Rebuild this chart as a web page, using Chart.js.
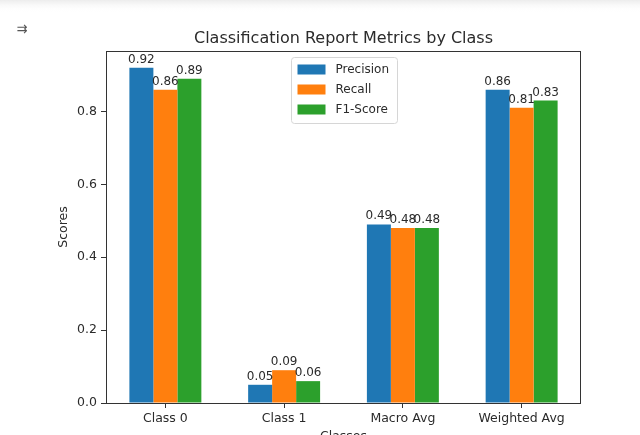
<!DOCTYPE html>
<html>
<head>
<meta charset="utf-8">
<script src="https://cdn.jsdelivr.net/npm/chart.js@4.4.0/dist/chart.umd.min.js"></script>
<style>
  html, body { margin: 0; padding: 0; background: #fff; }
  #wrap { width: 640px; height: 435px; position: relative; }
</style>
</head>
<body>
<div id="wrap"><canvas id="reportChart" width="640" height="435"></canvas></div>
<script>
// data
var classes = ["Class 0", "Class 1", "Macro Avg", "Weighted Avg"];
var precision = [0.92, 0.05, 0.49, 0.86];
var recall = [0.86, 0.09, 0.48, 0.81];
var f1Score = [0.89, 0.06, 0.48, 0.83];
var yTicks = [0.0, 0.2, 0.4, 0.6, 0.8];

var font = "'DejaVu Sans', sans-serif";
var textColor = "#2b2b2b";

// title, axis labels, frame, legend and bar value labels
var decorPlugin = {
    id: "decor",
    afterDatasetsDraw: function(chart) {
        var ctx = chart.ctx;
        var area = chart.chartArea;
        ctx.save();

        // light strip at the top of the page
        var grad = ctx.createLinearGradient(0, 0, 0, 12);
        grad.addColorStop(0, "#ececec");
        grad.addColorStop(1, "rgba(255,255,255,0)");
        ctx.fillStyle = grad;
        ctx.fillRect(0, 0, 640, 12);

        // bar value labels
        ctx.fillStyle = textColor;
        ctx.font = "12px " + font;
        ctx.textAlign = "center";
        ctx.textBaseline = "alphabetic";
        chart.data.datasets.forEach(function(ds, i) {
            chart.getDatasetMeta(i).data.forEach(function(bar, j) {
                ctx.fillText(ds.data[j].toFixed(2), bar.x, bar.y - 5);
            });
        });

        // frame
        ctx.strokeStyle = "#333";
        ctx.lineWidth = 1;
        ctx.strokeRect(area.left + 0.5, area.top + 0.5, area.right - area.left - 1, area.bottom - area.top);

        // title
        ctx.font = "16px " + font;
        ctx.fillText("Classification Report Metrics by Class", (area.left + area.right) / 2, 43);

        // axis labels
        ctx.font = "12.5px " + font;
        ctx.fillText("Classes", (area.left + area.right) / 2, 440);
        ctx.save();
        ctx.translate(67, (area.top + area.bottom) / 2);
        ctx.rotate(-Math.PI / 2);
        ctx.fillText("Scores", 0, 0);
        ctx.restore();

        // small toolbar glyph at the top left
        ctx.font = "13px " + font;
        ctx.fillStyle = "#555";
        ctx.fillText("\u21c9", 22, 33);

        // legend, upper center
        var boxW = 106, boxH = 66;
        var bx = Math.round((area.left + area.right) / 2 - boxW / 2) + 0.5;
        var by = area.top + 6.5;
        ctx.fillStyle = "rgba(255,255,255,0.8)";
        ctx.strokeStyle = "#d6d6d6";
        ctx.beginPath();
        ctx.roundRect(bx, by, boxW, boxH, 3);
        ctx.fill();
        ctx.stroke();
        ctx.textAlign = "left";
        ctx.textBaseline = "middle";
        ctx.font = "12px " + font;
        chart.data.datasets.forEach(function(ds, i) {
            var ry = by + 12 + i * 20;
            ctx.fillStyle = ds.backgroundColor;
            ctx.fillRect(bx + 6, ry - 5, 28, 10);
            ctx.fillStyle = textColor;
            ctx.fillText(ds.label, bx + 44, ry);
        });

        ctx.restore();
    }
};

new Chart(document.getElementById("reportChart"), {
    type: "bar",
    data: {
        labels: classes,
        datasets: [
            { label: "Precision", data: precision, backgroundColor: "#1f77b4" },
            { label: "Recall", data: recall, backgroundColor: "#ff7f0e" },
            { label: "F1-Score", data: f1Score, backgroundColor: "#2ca02c" }
        ]
    },
    options: {
        responsive: false,
        animation: false,
        events: [],
        categoryPercentage: 0.606,
        barPercentage: 1.0,
        layout: { padding: { left: 0, right: 59, top: 51, bottom: 0 } },
        plugins: {
            legend: { display: false },
            title: { display: false },
            tooltip: { enabled: false }
        },
        scales: {
            x: {
                grid: { display: true, offset: false, drawOnChartArea: false, drawTicks: true, tickLength: 5, color: "#333" },
                border: { display: false },
                ticks: { color: textColor, font: { family: font, size: 12.5 }, padding: 3, maxRotation: 0 },
                afterFit: function(scale) { scale.height = 32; }
            },
            y: {
                min: 0,
                max: 0.966,
                grid: { display: true, drawOnChartArea: false, drawTicks: true, tickLength: 5, color: "#333" },
                border: { display: false },
                ticks: {
                    color: textColor,
                    font: { family: font, size: 12.5 },
                    padding: 4,
                    callback: function(v) { return Number(v).toFixed(1); }
                },
                afterBuildTicks: function(scale) {
                    scale.ticks = yTicks.map(function(v) { return { value: v }; });
                },
                afterFit: function(scale) { scale.width = 106; }
            }
        }
    },
    plugins: [decorPlugin]
});
</script>
</body>
</html>
